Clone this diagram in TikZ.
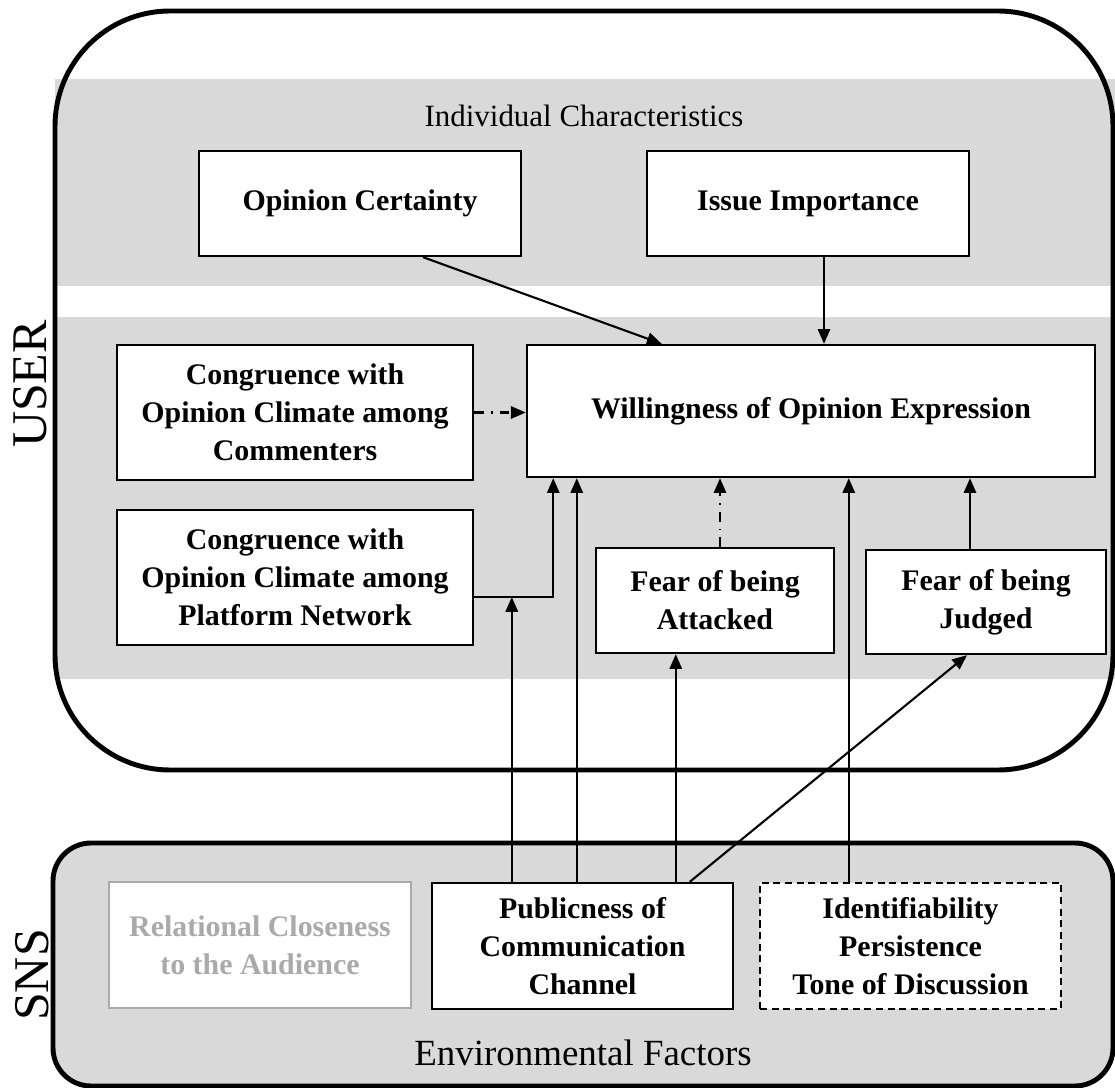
\documentclass[tikz,border=0pt]{standalone}
\usepackage{fontspec}
\setmainfont{Liberation Serif}
\usepackage{tikz}
\usetikzlibrary{arrows.meta,calc}
\definecolor{bandgray}{HTML}{D9D9D9}
\definecolor{fadegray}{HTML}{AAAAAA}

\begin{document}
\begin{tikzpicture}[x=0.01cm, y=-0.01cm,
    fb/.style={rectangle, draw=black, line width=0.65pt, fill=white, align=center, inner sep=0pt, font=\bfseries\fontsize{8.5}{10.8}\selectfont},
    arr/.style={line width=0.6pt, -{Triangle[length=4.2pt, width=3.5pt]}},
    dd/.style={arr, dash pattern=on 2.8pt off 2pt on 0.4pt off 2pt},
    frame/.style={line width=1.4pt}
]
    \useasboundingbox (0,0) rectangle (1115,1088);

    % Bands and frames
    \fill[bandgray] (55,79) rectangle (1115,286);
    \fill[bandgray] (55,317) rectangle (1115,679);
    \draw[frame, rounded corners=1.15cm] (55,11) rectangle (1113,770);
    \draw[frame, fill=bandgray, rounded corners=0.38cm] (53,843) rectangle (1113,1086);

    % Labels
    \node[rotate=90, anchor=base, font=\fontsize{14.2}{16}\selectfont] (user) at (47,384) {USER};
    \node[rotate=90, anchor=base, font=\fontsize{14.2}{16}\selectfont] (sns) at (48,975) {SNS};
    \node[anchor=base, font=\fontsize{8.8}{10}\selectfont] (indiv) at (584,127) {Individual Characteristics};
    \node[anchor=base, font=\fontsize{10.5}{12}\selectfont] (env) at (583,1065) {Environmental Factors};

    % Factors
    \node[fb, minimum width=3.22cm, minimum height=1.05cm] (opinion) at (360,203.5) {Opinion Certainty};
    \node[fb, minimum width=3.22cm, minimum height=1.05cm] (issue) at (808,203.5) {Issue Importance};
    \node[fb, minimum width=5.68cm, minimum height=1.32cm] (willing) at (811,411) {Willingness of Opinion Expression};
    \node[fb, minimum width=3.56cm, minimum height=1.35cm] (congcom) at (295,412.5) {Congruence with\\Opinion Climate among\\Commenters};
    \node[fb, minimum width=3.56cm, minimum height=1.35cm] (congnet) at (295,577.5) {Congruence with\\Opinion Climate among\\Platform Network};
    \node[fb, minimum width=2.38cm, minimum height=1.05cm] (attacked) at (715,600.5) {Fear of being\\Attacked};
    \node[fb, minimum width=2.40cm, minimum height=1.04cm] (judged) at (986,602) {Fear of being\\Judged};
    \node[fb, draw=fadegray, text=fadegray, minimum width=3.02cm, minimum height=1.26cm] (closeness) at (260,945) {Relational Closeness\\to the Audience};
    \node[fb, minimum width=3.01cm, minimum height=1.26cm] (publicness) at (582.5,946) {Publicness of\\Communication\\Channel};
    \node[fb, dash pattern=on 2pt off 1.3pt, minimum width=3.01cm, minimum height=1.26cm] (identif) at (910.5,946) {Identifiability\\Persistence\\Tone of Discussion};

    % Paths
    \draw[arr] ($(opinion.south)+(63,0)$) -- ($(willing.north west)+(136,0)$);
    \draw[arr] ($(issue.south)+(16,0)$) coordinate (i1) -- (i1 |- willing.north);
    \draw[dd] (congcom.east) -- (congcom.east -| willing.west);
    \coordinate (elbow) at ($(congnet.east)+(79,19.5)$);
    \draw[arr] ($(congnet.east)+(0,19.5)$) -- (elbow) -- (elbow |- willing.south);
    \draw[dd] ($(attacked.north)+(5,0)$) coordinate (a1) -- (a1 |- willing.south);
    \draw[arr] ($(judged.north)+(-16,0)$) coordinate (j1) -- (j1 |- willing.south);
    \draw[arr] ($(publicness.north west)+(81,0)$) coordinate (p1) -- (p1 |- elbow);
    \draw[arr] ($(publicness.north west)+(146,0)$) coordinate (p2) -- (p2 |- willing.south);
    \draw[arr] ($(publicness.north west)+(245,0)$) coordinate (p3) -- (p3 |- attacked.south);
    \draw[arr] ($(publicness.north west)+(259,0)$) -- ($(judged.south)+(-19,0)$);
    \draw[arr] ($(identif.north west)+(90,0)$) coordinate (d1) -- (d1 |- willing.south);
\end{tikzpicture}
\end{document}
